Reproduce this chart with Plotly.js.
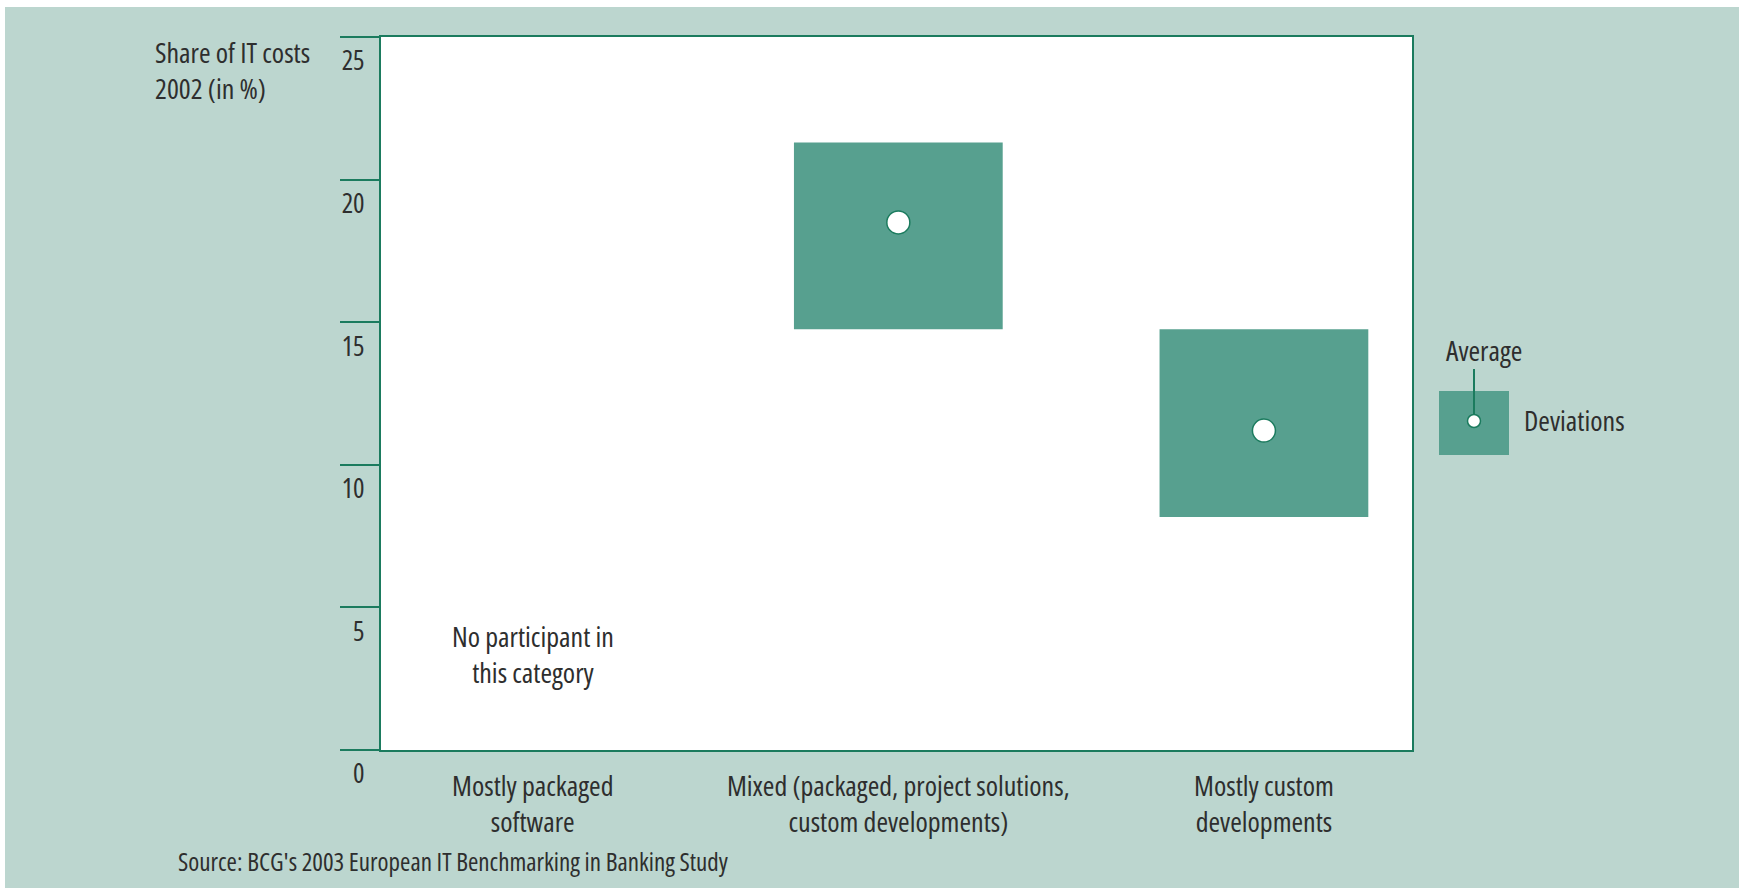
<!DOCTYPE html>
<html>
<head>
<meta charset="utf-8">
<script src="https://cdn.plot.ly/plotly-3.0.1.min.js"></script>
<style>
  html, body { margin: 0; padding: 0; background: #ffffff; }
  #chart { width: 1739px; height: 894px; }
  svg text { font-stretch: 75% !important; }
</style>
</head>
<body>
<div id="chart"></div>
<script>
// ---- Data ----
const categories = [
  "Mostly packaged<br>software",
  "Mixed (packaged, project solutions,<br>custom developments)",
  "Mostly custom<br>developments"
];
const deviationLow  = [null, 14.75, 8.17];
const deviationHigh = [null, 21.3, 14.75];
const averageValue  = [null, 18.5, 11.2];
const yTickValues   = [0, 5, 10, 15, 20, 25];
const yTickLabels   = ["0", "5", "10", "15", "20", "25"];
const noDataNote    = "No participant in<br>this category";
const noDataNoteY   = 3.37;

// ---- Style ----
const W = 1739, H = 894;
const M = { l: 381, r: 327, t: 37, b: 144 };
const PW = W - M.l - M.r, PH = H - M.t - M.b;
const px = x => (x - M.l) / PW;
const py = y => (H - M.b - y) / PH;

const FONT = '"Open Sans", "Roboto", sans-serif';
const TXT = '#2e2e2e';
const BG = '#BCD6CF';
const BOX = '#57A08F';
const LINE = '#1B7B5E';
const FS = 28;

const xPos = categories.map((c, i) => i);
const withData = xPos.filter((x, i) => averageValue[i] !== null);

const bars = {
  type: 'bar',
  x: withData,
  base: withData.map(i => deviationLow[i]),
  y: withData.map(i => deviationHigh[i] - deviationLow[i]),
  width: 0.571,
  marker: { color: BOX, line: { width: 0 } },
  hoverinfo: 'skip',
  showlegend: false
};
const avg = {
  type: 'scatter',
  mode: 'markers',
  x: withData,
  y: withData.map(i => averageValue[i]),
  marker: { size: 23, color: '#ffffff', line: { color: LINE, width: 1.5 } },
  hoverinfo: 'skip',
  showlegend: false
};

const layout = {
  width: W, height: H,
  margin: M,
  paper_bgcolor: BG,
  plot_bgcolor: '#ffffff',
  font: { family: FONT, size: FS, color: TXT },
  showlegend: false,
  xaxis: {
    range: [-0.415, 2.405],
    tickmode: 'array',
    tickvals: xPos,
    ticktext: categories,
    ticks: '',
    ticklen: 0,
    ticklabelstandoff: 10,
    showgrid: false,
    zeroline: false,
    showline: true, mirror: true,
    linecolor: LINE, linewidth: 2,
    tickfont: { family: FONT, size: FS, color: TXT },
    fixedrange: true
  },
  yaxis: {
    range: [0, 25],
    tickmode: 'array',
    tickvals: yTickValues,
    ticktext: yTickLabels,
    ticks: 'outside',
    ticklen: 39,
    tickwidth: 2,
    tickcolor: LINE,
    ticklabelposition: 'outside',
    ticklabeloverflow: 'allow',
    ticklabelshift: 24,
    ticklabelstandoff: -30,
    showgrid: false,
    zeroline: false,
    showline: true, mirror: true,
    linecolor: LINE, linewidth: 2,
    tickfont: { family: FONT, size: 27, color: TXT },
    fixedrange: true
  },
  shapes: [
    // thin white page edges
    { type: 'rect', xref: 'paper', yref: 'paper', layer: 'above',
      x0: px(-10), x1: px(W + 10), y0: py(7), y1: py(-10),
      fillcolor: '#ffffff', line: { width: 0 } },
    { type: 'rect', xref: 'paper', yref: 'paper', layer: 'above',
      x0: px(-10), x1: px(5), y0: py(H + 10), y1: py(-10),
      fillcolor: '#ffffff', line: { width: 0 } },
    { type: 'rect', xref: 'paper', yref: 'paper', layer: 'above',
      x0: px(-10), x1: px(W + 10), y0: py(H + 10), y1: py(888),
      fillcolor: '#ffffff', line: { width: 0 } },
    // legend box
    { type: 'rect', xref: 'paper', yref: 'paper',
      x0: px(1439), x1: px(1509), y0: py(455), y1: py(391),
      fillcolor: BOX, line: { width: 0 } },
    // legend leader line
    { type: 'line', xref: 'paper', yref: 'paper',
      x0: px(1474), x1: px(1474), y0: py(369), y1: py(416),
      line: { color: LINE, width: 2 } },
    // legend dot
    { type: 'circle', xref: 'paper', yref: 'paper',
      xsizemode: 'pixel', ysizemode: 'pixel',
      xanchor: px(1474), yanchor: py(421),
      x0: -6.5, x1: 6.5, y0: -6.5, y1: 6.5,
      fillcolor: '#ffffff', line: { color: LINE, width: 1.5 } }
  ],
  annotations: [
    { xref: 'paper', yref: 'paper', x: px(153), y: py(70),
      xanchor: 'left', yanchor: 'middle', align: 'left', showarrow: false,
      text: 'Share of IT costs<br>2002 (in %)',
      font: { family: FONT, size: FS, color: TXT } },
    { xref: 'x', yref: 'y', x: xPos[0], y: noDataNoteY,
      xanchor: 'center', yanchor: 'middle', align: 'center', showarrow: false,
      text: noDataNote,
      font: { family: FONT, size: FS, color: TXT } },
    { xref: 'paper', yref: 'paper', x: px(1444), y: py(350),
      xanchor: 'left', yanchor: 'middle', showarrow: false,
      text: 'Average',
      font: { family: FONT, size: FS, color: TXT } },
    { xref: 'paper', yref: 'paper', x: px(1522), y: py(420),
      xanchor: 'left', yanchor: 'middle', showarrow: false,
      text: 'Deviations',
      font: { family: FONT, size: FS, color: TXT } },
    { xref: 'paper', yref: 'paper', x: px(176), y: py(861),
      xanchor: 'left', yanchor: 'middle', showarrow: false,
      text: "Source: BCG's 2003 European IT Benchmarking in Banking Study",
      font: { family: FONT, size: 25, color: TXT } }
  ]
};

Plotly.newPlot('chart', [bars, avg], layout, { displayModeBar: false, staticPlot: true });
</script>
</body>
</html>
